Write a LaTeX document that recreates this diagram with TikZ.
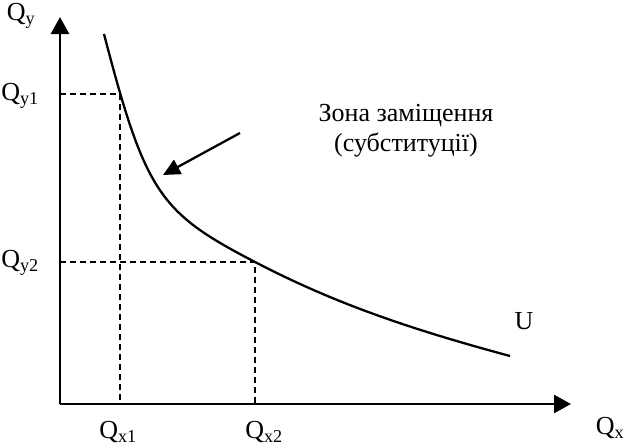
\documentclass[tikz,border=0pt]{standalone}
\usepackage{fontspec}
\setmainfont{Liberation Serif}
\usepackage{tikz}
\usetikzlibrary{arrows.meta}

\begin{document}
\begin{tikzpicture}[
  x=1pt, y=-1pt,
  axis/.style={line width=2.6pt, -{Triangle[length=17pt,width=18pt]}},
  guide/.style={line width=1.7pt, dash pattern=on 6pt off 4pt},
  curve/.style={line width=2.3pt},
  pointer/.style={line width=2.3pt, -{Triangle[length=17pt,width=16pt]}},
  lbl/.style={font=\fontsize{26}{30}\selectfont, inner sep=0pt}
]
  \useasboundingbox (0,0) rectangle (624,445);
  % axes
  \coordinate (o) at (60,404);
  \coordinate (ytip) at (60,17);
  \coordinate (xtip) at (571,404);
  \draw[axis] (o) -- (ytip);
  \draw[axis] (o) -- (xtip);
  % points on the curve
  \coordinate (p1) at (120,94);
  \coordinate (p2) at (255,262);
  \coordinate (px1) at (120,404);
  \coordinate (px2) at (255,404);
  \coordinate (py1) at (60,94);
  \coordinate (py2) at (60,262);
  \draw[guide] (py1) -- (p1) -- (px1);
  \draw[guide] (py2) -- (p2) -- (px2);
  % indifference curve
  \coordinate (ctop) at (104,34);
  \coordinate (cend) at (510,356);
  \draw[curve] (ctop) .. controls (145.6,194) and (160,212.6) .. (p2)
    .. controls (335,303.6) and (410,329) .. (cend);
  % labels
  \node[lbl] (qy) at (21,16) {Q\textsubscript{y}};
  \node[lbl] (qy1) at (20,96) {Q\textsubscript{y1}};
  \node[lbl] (qy2) at (20,263) {Q\textsubscript{y2}};
  \node[lbl] (qx1) at (118,432) {Q\textsubscript{x1}};
  \node[lbl] (qx2) at (264,432) {Q\textsubscript{x2}};
  \node[lbl] (qx) at (610,428) {Q\textsubscript{x}};
  \node[lbl] (u) at (524,321) {U};
  \node[lbl, align=center] (zone) at (406,131) {Зона заміщення\\(субституції)};
  \coordinate (ptail) at (240,133);
  \coordinate (phead) at (163,175);
  \draw[pointer] (ptail) -- (phead);
\end{tikzpicture}
\end{document}
